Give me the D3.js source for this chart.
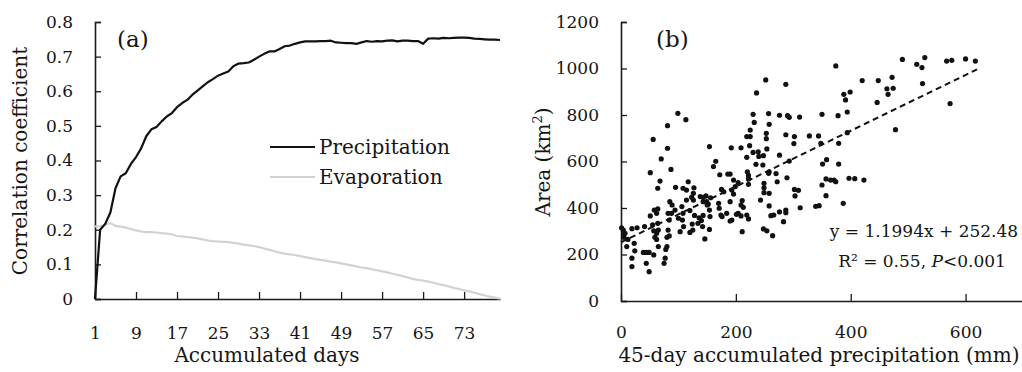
<!DOCTYPE html>
<html>
<head>
<meta charset="utf-8">
<script src="https://cdn.jsdelivr.net/npm/d3@7"></script>
<style>
  body { margin: 0; background: #fff; }
  text { font-family: "DejaVu Serif", serif; fill: #151515; }
</style>
</head>
<body>
<svg id="chart" width="1022" height="372"></svg>
<script>
// panel (a): correlation vs accumulated days
const days = d3.range(1, 81);
const precipCorr = [0, 0.2, 0.217, 0.25, 0.32, 0.354, 0.363, 0.39, 0.41, 0.435,
  0.47, 0.49, 0.497, 0.513, 0.527, 0.537, 0.554, 0.566, 0.575, 0.59,
  0.602, 0.614, 0.626, 0.635, 0.645, 0.651, 0.657, 0.672, 0.68, 0.681,
  0.683, 0.691, 0.7, 0.708, 0.715, 0.715, 0.722, 0.73, 0.732, 0.737,
  0.741, 0.744, 0.744, 0.744, 0.745, 0.745, 0.746, 0.741, 0.74, 0.739,
  0.739, 0.737, 0.741, 0.745, 0.743, 0.745, 0.744, 0.746, 0.747, 0.744,
  0.746, 0.746, 0.745, 0.745, 0.737, 0.752, 0.753, 0.752, 0.754, 0.753,
  0.754, 0.755, 0.755, 0.754, 0.752, 0.751, 0.75, 0.749, 0.749, 0.748];
const evapCorr = [0.21, 0.21, 0.215, 0.219, 0.211, 0.209, 0.206, 0.202, 0.198, 0.195,
  0.193, 0.193, 0.192, 0.19, 0.189, 0.187, 0.182, 0.181, 0.179, 0.177,
  0.175, 0.172, 0.169, 0.167, 0.166, 0.165, 0.164, 0.162, 0.16, 0.157,
  0.155, 0.153, 0.15, 0.146, 0.142, 0.138, 0.134, 0.131, 0.129, 0.127,
  0.124, 0.121, 0.118, 0.115, 0.113, 0.111, 0.108, 0.106, 0.103, 0.1,
  0.097, 0.094, 0.091, 0.089, 0.086, 0.083, 0.08, 0.077, 0.073, 0.07,
  0.066, 0.062, 0.058, 0.055, 0.053, 0.05, 0.047, 0.043, 0.04, 0.036,
  0.032, 0.029, 0.025, 0.022, 0.018, 0.014, 0.01, 0.007, 0.004, 0.001];
const dayTicks = [1, 9, 17, 25, 33, 41, 49, 57, 65, 73];
const corrTicks = [0, 0.1, 0.2, 0.3, 0.4, 0.5, 0.6, 0.7, 0.8];
const seriesNames = ["Precipitation", "Evaporation"];
const seriesColors = ["#111", "#d2d2d2"];

// panel (b): area vs 45-day accumulated precipitation
const precipMm = [374, 252, 287, 236, 420, 448, 472, 490, 515, 524, 529, 525, 567, 576, 600, 617,
  573, 478, 463, 474, 465, 446, 388, 399, 391, 394, 378, 394, 379, 379, 387, 397, 407, 423,
  350, 328, 344, 348, 358, 351, 350, 357, 357, 365, 371, 374, 339, 345, 311, 290, 293, 276,
  287, 302, 301, 293, 276, 289, 302, 309, 303, 312, 287, 287, 276, 283, 266, 261, 257, 258,
  270, 272, 258, 258, 264, 254, 248, 257, 258, 253, 253, 254, 248, 247, 249, 249, 249, 243,
  230, 232, 225, 219, 225, 224, 239, 240, 235, 219, 222, 222, 222, 209, 192, 196, 186, 190,
  172, 161, 165, 154, 211, 209, 213, 219, 222, 204, 201, 209, 211, 193, 190, 184, 176, 175,
  179, 193, 196, 190, 170, 171, 174, 156, 149, 152, 148, 154, 155, 154, 146, 142, 140, 143,
  136, 134, 128, 124, 125, 120, 127, 126, 123, 126, 120, 114, 108, 114, 117, 113, 99, 106,
  108, 107, 109, 103, 100, 94, 95, 87, 85, 89, 88, 82, 84, 82, 81, 81, 80, 84, 80, 78,
  77, 75, 70, 68, 64, 64, 62, 64, 65, 62, 62, 65, 58, 56, 57, 59, 57, 51, 51, 55,
  49, 49, 44, 44, 41, 39, 19, 23, 24, 19, 19, 10, 5, 1, 4, 5, 7, 28, 12, 138,
  143, 143, 150, 199, 204, 220, 230];
const areaKm2 = [1011, 951, 932, 895, 948, 948, 962, 1039, 1018, 1004, 1047, 935, 1032, 1035, 1041, 1032,
  849, 737, 913, 915, 889, 854, 889, 899, 865, 813, 797, 724, 678, 589, 420, 528, 526, 520,
  803, 710, 710, 678, 608, 589, 499, 525, 453, 520, 520, 513, 407, 410, 791, 797, 790, 799,
  715, 707, 677, 602, 627, 530, 480, 476, 452, 401, 391, 380, 383, 341, 370, 367, 549, 556,
  548, 513, 463, 409, 281, 302, 310, 806, 760, 721, 698, 654, 625, 585, 506, 487, 466, 434,
  803, 768, 735, 707, 707, 668, 642, 622, 588, 618, 540, 525, 502, 659, 659, 520, 546, 546,
  543, 578, 601, 664, 432, 413, 403, 370, 353, 377, 373, 366, 298, 348, 344, 377, 363, 480,
  470, 477, 460, 427, 420, 399, 370, 444, 427, 417, 452, 391, 363, 308, 267, 320, 346, 368,
  358, 334, 368, 331, 305, 295, 487, 463, 446, 434, 389, 477, 485, 434, 513, 780, 807, 406,
  377, 348, 320, 298, 356, 391, 489, 566, 427, 413, 377, 377, 348, 305, 754, 657, 274, 280, 234, 222,
  184, 162, 611, 516, 485, 396, 377, 334, 305, 291, 265, 234, 391, 695, 302, 274, 198, 552, 366, 327,
  209, 126, 209, 162, 320, 209, 311, 248, 216, 184, 148, 234, 274, 315, 305, 287, 291, 315, 265, 449,
  446, 427, 413, 492, 509, 556, 639];
const precipTicks = [0, 200, 400, 600];
const areaTicks = [0, 200, 400, 600, 800, 1000, 1200];
const fitSlope = 1.1994, fitIntercept = 252.48;
const fitRange = [0, 620];

const svg = d3.select("#chart");

function styleAxis(g) {
  g.select(".domain").attr("stroke", "#1a1a1a").attr("stroke-width", 1.6);
  g.selectAll(".tick line").attr("stroke", "#1a1a1a").attr("stroke-width", 1.3);
  g.selectAll(".tick text").attr("font-size", 17).attr("fill", "#151515");
}

// ---------- panel (a)
const xa = d3.scaleLinear().domain([1, 80]).range([95, 500]);
const ya = d3.scaleLinear().domain([0, 0.8]).range([299, 22]);

const ga = svg.append("g");

ga.append("g")
    .attr("transform", "translate(0,299)")
    .call(d3.axisBottom(xa).tickValues(dayTicks).tickSizeInner(-7).tickSizeOuter(0).tickPadding(28))
    .call(styleAxis);

ga.append("g")
    .attr("transform", "translate(95,0)")
    .call(d3.axisLeft(ya).tickValues(corrTicks).tickSizeInner(-6).tickSizeOuter(-6)
      .tickPadding(22).tickFormat(d => d === 0 ? "0" : d3.format(".1f")(d)))
    .call(styleAxis);

const lineA = d3.line().x((d, i) => xa(days[i])).y(d => ya(d));

ga.append("path")
    .datum(evapCorr)
    .attr("fill", "none")
    .attr("stroke", seriesColors[1])
    .attr("stroke-width", 2.2)
    .attr("d", lineA);

ga.append("path")
    .datum(precipCorr)
    .attr("fill", "none")
    .attr("stroke", seriesColors[0])
    .attr("stroke-width", 2.2)
    .attr("stroke-linejoin", "round")
    .attr("d", lineA);

const legend = ga.append("g")
  .selectAll("g")
  .data(seriesNames)
  .join("g")
    .attr("transform", (d, i) => `translate(270,${147 + i * 30})`);
legend.append("line")
    .attr("x1", 0).attr("x2", 45)
    .attr("stroke", (d, i) => seriesColors[i])
    .attr("stroke-width", 2.2);
legend.append("text")
    .attr("x", 49).attr("y", 7)
    .attr("font-size", 20)
    .text(d => d);

ga.append("text")
    .attr("x", 117).attr("y", 47)
    .attr("font-size", 23)
    .text("(a)");

ga.append("text")
    .attr("x", 267).attr("y", 362)
    .attr("text-anchor", "middle")
    .attr("font-size", 20)
    .text("Accumulated days");

ga.append("text")
    .attr("transform", "translate(27,161)rotate(-90)")
    .attr("text-anchor", "middle")
    .attr("font-size", 20)
    .text("Correlation coefficient");

// ---------- panel (b)
const xb = d3.scaleLinear().domain([0, 700]).range([621, 1023]);
const yb = d3.scaleLinear().domain([0, 1200]).range([301, 22]);

const gb = svg.append("g");

gb.append("g")
    .attr("transform", "translate(0,301)")
    .call(d3.axisBottom(xb).tickValues(precipTicks).tickSizeInner(-7).tickSizeOuter(0).tickPadding(25))
    .call(styleAxis);

gb.append("g")
    .attr("transform", "translate(621,0)")
    .call(d3.axisLeft(yb).tickValues(areaTicks).tickSizeInner(-6).tickSizeOuter(-6)
      .tickPadding(22).tickFormat(d3.format("d")))
    .call(styleAxis);

gb.append("g")
  .selectAll("circle")
  .data(precipMm)
  .join("circle")
    .attr("cx", d => xb(d))
    .attr("cy", (d, i) => yb(areaKm2[i]))
    .attr("r", 2.6)
    .attr("fill", "#111");

gb.append("line")
    .attr("x1", xb(fitRange[0])).attr("y1", yb(fitSlope * fitRange[0] + fitIntercept))
    .attr("x2", xb(fitRange[1])).attr("y2", yb(fitSlope * fitRange[1] + fitIntercept))
    .attr("stroke", "#111")
    .attr("stroke-width", 2)
    .attr("stroke-dasharray", "6,4");

gb.append("text")
    .attr("x", 656).attr("y", 47)
    .attr("font-size", 23)
    .text("(b)");

gb.append("text")
    .attr("x", 924).attr("y", 237)
    .attr("text-anchor", "middle")
    .attr("font-size", 17)
    .text(`y = ${fitSlope}x + ${fitIntercept}`);

const r2 = gb.append("text")
    .attr("x", 922).attr("y", 267)
    .attr("text-anchor", "middle")
    .attr("font-size", 17);
r2.append("tspan").text("R² = 0.55, ");
r2.append("tspan").attr("font-style", "italic").text("P");
r2.append("tspan").text("<0.001");

gb.append("text")
    .attr("x", 819).attr("y", 362)
    .attr("text-anchor", "middle")
    .attr("font-size", 20)
    .text("45-day accumulated precipitation (mm)");

const ylab = gb.append("text")
    .attr("transform", "translate(550,162)rotate(-90)")
    .attr("text-anchor", "middle")
    .attr("font-size", 20);
ylab.append("tspan").text("Area (km");
ylab.append("tspan").attr("font-size", 13).attr("dy", -8).text("2");
ylab.append("tspan").attr("dy", 8).text(")");
</script>
</body>
</html>
